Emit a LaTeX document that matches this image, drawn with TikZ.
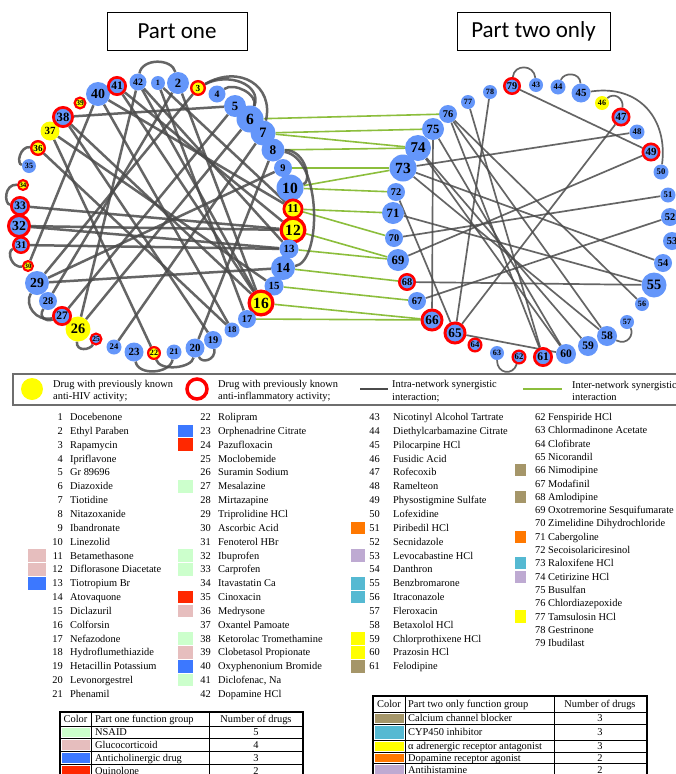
\documentclass[tikz,border=0pt]{standalone}
\usepackage{fontspec}
\setmainfont{Liberation Serif}
\newfontfamily\partfont{Carlito}
\pgfdeclarelayer{bg}
\pgfsetlayers{bg,main}
\definecolor{nblue}{RGB}{100,150,250}
\definecolor{nyel}{RGB}{255,255,0}
\definecolor{nred}{RGB}{255,0,0}
\definecolor{egray}{RGB}{75,75,75}
\definecolor{egreen}{RGB}{140,190,60}
\definecolor{sgreen}{RGB}{204,255,204}
\definecolor{spink}{RGB}{230,190,190}
\definecolor{sblue}{RGB}{60,120,255}
\definecolor{sred}{RGB}{255,40,0}
\definecolor{sorange}{RGB}{255,120,0}
\definecolor{slav}{RGB}{190,170,210}
\definecolor{scyan}{RGB}{85,185,210}
\definecolor{syel}{RGB}{255,255,0}
\definecolor{skhaki}{RGB}{165,150,105}
\newcommand\dn[5]{%
 \pgfmathsetmacro\dnfs{#4*1.15}%
 \pgfmathsetmacro\dnsz{2*#4}%
 \node[#5, minimum size=\dnsz pt, font=\bfseries\fontsize{\dnfs}{\dnfs}\selectfont] (n#1) at (#2,#3) {#1};}
\newcommand\dr[5]{%
 \pgfmathsetmacro\dnfs{#4*1.15}%
 \pgfmathsetmacro\dnlw{0.15*#4+1.2}%
 \pgfmathsetmacro\dnsz{2*#4-\dnlw}%
 \node[#5, line width=\dnlw pt, minimum size=\dnsz pt, font=\bfseries\fontsize{\dnfs}{\dnfs}\selectfont] (n#1) at (#2,#3) {#1};}
\begin{document}
\begin{tikzpicture}[x=1pt,y=-1pt,
 bn/.style={circle, fill=nblue, inner sep=0pt},
 yn/.style={circle, fill=nyel, inner sep=0pt},
 brn/.style={circle, fill=nblue, draw=nred, inner sep=0pt},
 yrn/.style={circle, fill=nyel, draw=nred, inner sep=0pt},
 intra/.style={draw=egray, line width=2.5pt, opacity=0.85},
 intrar/.style={draw=egray, line width=1.7pt, opacity=0.85},
 inter/.style={draw=egreen, line width=1.6pt},
 txt/.style={font=\fontsize{10.4}{12.5}\selectfont, inner sep=0pt},
 partbox/.style={draw, line width=0.8pt, minimum height=38pt, font=\partfont\fontsize{23}{26}\selectfont},
 tline/.style={line width=0.9pt}
]
\useasboundingbox (0,0) rectangle (675,774);
\begin{pgfonlayer}{bg}
\fill[white] (0,0) rectangle (675,774);
\end{pgfonlayer}

% titles
\node[partbox, minimum width=140pt] (p1) at (177,31) {Part one};
\node[partbox, minimum width=153pt] (p2) at (533.5,31) {Part two only};

% left network
\dn{1}{158}{83}{7}{bn}
\dn{2}{178}{83}{11}{bn}
\dr{3}{198}{88}{8}{yrn}
\dn{4}{217}{94}{8.5}{bn}
\dn{5}{235}{106}{11}{bn}
\dn{6}{250}{119}{13.5}{bn}
\dn{7}{263}{133}{12.5}{bn}
\dn{8}{273}{150}{11.5}{bn}
\dn{9}{283}{168}{9}{bn}
\dn{10}{290}{188}{13.5}{bn}
\dr{11}{293}{209}{10.5}{yrn}
\dr{12}{293}{230}{13.5}{yrn}
\dn{13}{289}{249}{9.5}{bn}
\dn{14}{283}{268}{12}{bn}
\dn{15}{274}{286}{9.5}{bn}
\dr{16}{261}{303}{13.5}{yrn}
\dn{17}{247}{319}{9}{bn}
\dn{18}{232}{330}{7.5}{bn}
\dn{19}{213}{340}{9}{bn}
\dn{20}{195}{348}{9.5}{bn}
\dn{21}{174}{352}{7.5}{bn}
\dr{22}{154}{353}{7}{yrn}
\dn{23}{134}{352}{9.5}{bn}
\dn{24}{114}{347}{7.5}{bn}
\dr{25}{96}{339}{6.5}{brn}
\dn{26}{78}{329}{12.5}{yn}
\dr{27}{62}{316}{10}{brn}
\dn{28}{48}{301}{9}{bn}
\dn{29}{37}{283}{12}{bn}
\dr{30}{28}{266}{6}{yrn}
\dr{31}{21}{245}{9}{brn}
\dr{32}{19}{226}{12}{brn}
\dr{33}{20}{206}{10}{brn}
\dr{34}{23}{185}{6}{yrn}
\dn{35}{29}{166}{7}{bn}
\dr{36}{38}{148}{8}{yrn}
\dn{37}{50}{131}{9.5}{yn}
\dr{38}{63}{117}{11}{brn}
\dr{39}{80}{103}{6.5}{yrn}
\dn{40}{98}{94}{12}{bn}
\dr{41}{117}{86}{10}{brn}
\dn{42}{138}{82}{8.5}{bn}

% right network
\dr{79}{512}{86}{9}{brn}
\dn{43}{536}{85}{7}{bn}
\dn{44}{558}{87}{7.5}{bn}
\dn{45}{581}{93}{9.5}{bn}
\dn{46}{602}{103}{7}{yn}
\dr{47}{621}{117}{9.5}{brn}
\dn{48}{637}{132}{7.5}{bn}
\dr{49}{651}{152}{9.5}{brn}
\dn{50}{661}{172}{7.5}{bn}
\dn{51}{668}{195}{7.5}{bn}
\dn{52}{670}{217}{9}{bn}
\dn{53}{672}{241}{9}{bn}
\dn{54}{663}{263}{9}{bn}
\dn{55}{654}{285}{12.5}{bn}
\dn{56}{642}{304}{7}{bn}
\dn{57}{627}{322}{7}{bn}
\dn{58}{607}{336}{10}{bn}
\dn{59}{588}{346}{10}{bn}
\dn{60}{566}{354}{10}{bn}
\dr{61}{543}{357}{10}{brn}
\dr{62}{519}{357}{7.5}{brn}
\dn{63}{497}{353}{7}{bn}
\dr{64}{475}{345}{7.5}{brn}
\dr{65}{455}{333}{11.5}{brn}
\dr{66}{432}{320}{11.5}{brn}
\dn{67}{417}{301}{9}{bn}
\dr{68}{407}{282}{9}{brn}
\dn{69}{398}{260}{11}{bn}
\dn{70}{394}{238}{9}{bn}
\dn{71}{393}{213}{11}{bn}
\dn{72}{396}{192}{9}{bn}
\dn{73}{403}{168}{13.5}{bn}
\dn{74}{418}{148}{13}{bn}
\dn{75}{433}{129}{11}{bn}
\dn{76}{448}{114}{9}{bn}
\dn{77}{468}{102}{7}{bn}
\dn{78}{490}{92}{7}{bn}

\begin{pgfonlayer}{bg}
% inter-network
\foreach \a/\b in {6/76,7/75,7/74,8/74,9/73,10/73,10/72,11/71,11/70,12/69,13/69,14/68,15/67,16/66,17/66}
 {\draw[inter] (n\a) -- (n\b);}
% intra left, straight
\foreach \a/\b in {38/5,33/12,32/12,32/13,31/13,29/14,42/16,41/16,38/16,37/15,1/11,41/12,40/11,40/18,37/22,42/26,6/26,29/9,2/28,40/30,5/27,36/18,8/20,7/24,3/29,38/19,1/17,42/13,2/16}
 {\draw[intra] (n\a) -- (n\b);}
% intra left, arcs
\draw[intra] (n42) .. controls (142,58) and (172,58) .. (n2);
\draw[intra] (n3) .. controls (240,64) and (274,86) .. (n7);
\draw[intra] (n3) .. controls (228,72) and (262,84) .. (n6);
\draw[intra] (n4) .. controls (234,82) and (258,94) .. (n6);
\draw[intra] (n8) .. controls (322,158) and (322,262) .. (n14);
\draw[intra] (n8) .. controls (306,150) and (312,182) .. (n10);
\draw[intra] (n34) .. controls (4,184) and (4,204) .. (n33);
\draw[intra] (n36) .. controls (20,146) and (16,164) .. (n35);
\draw[intra] (n31) .. controls (6,252) and (12,268) .. (n30);
\draw[intra] (n29) .. controls (24,305) and (36,322) .. (n27);
\draw[intra] (n28) .. controls (38,318) and (46,322) .. (n27);
\draw[intra] (n26) .. controls (76,352) and (90,350) .. (n25);
\draw[intra] (n23) .. controls (138,376) and (170,374) .. (n21);
\draw[intra] (n22) .. controls (160,372) and (192,368) .. (n20);
\draw[intra] (n20) .. controls (202,364) and (216,360) .. (n19);
% intra right, straight
\foreach \a/\b in {79/49,48/73,47/65,78/65,75/66,70/51,69/49,52/67,68/55,76/61,76/58,77/61,74/60,74/59,73/58,72/65,71/55,65/60,56/76,54/73,75/60}
 {\draw[intrar] (n\a) -- (n\b);}
% intra right, arcs
\draw[intrar] (n79) .. controls (514,64) and (534,64) .. (n43);
\draw[intrar] (n44) .. controls (564,72) and (580,72) .. (n45);
\draw[intrar] (n46) .. controls (614,92) and (624,98) .. (n47);
\draw[intrar] (n45) .. controls (640,84) and (668,120) .. (n50);
\draw[intrar] (n57) .. controls (634,334) and (628,346) .. (n58);
\draw[intrar] (n63) .. controls (497,374) and (513,376) .. (n62);
\end{pgfonlayer}

% legend
\draw[draw={rgb,255:red,110;green,110;blue,110}, line width=1.2pt] (13,374) rectangle (690,405);
\node[circle, fill=nyel, minimum size=22pt, inner sep=0pt] (lgy) at (32,389) {};
\node[txt, anchor=west, align=left] (lgyt) at (53,391) {Drug with previously known\\anti-HIV activity;};
\node[circle, draw=nred, line width=3.5pt, minimum size=20pt, inner sep=0pt] (lgr) at (197,389) {};
\node[txt, anchor=west, align=left] (lgrt) at (218,391) {Drug with previously known\\anti-inflammatory activity;};
\coordinate (lga) at (360,389); \coordinate (lgb) at (388,389);
\draw[egray, line width=2.5pt] (lga) -- (lgb);
\node[txt, anchor=west, align=left] (lgit) at (392,391) {Intra-network synergistic\\interaction;};
\coordinate (lgc) at (523,389); \coordinate (lgd) at (562,389);
\draw[egreen, line width=2.5pt] (lgc) -- (lgd);
\node[txt, anchor=west, align=left] (lget) at (572,391) {Inter-network synergistic\\interaction};

% drug list
\foreach \n/\t [count=\i from 0] in {1/Docebenone, 2/Ethyl Paraben, 3/Rapamycin, 4/Ipriflavone, 5/Gr 89696, 6/Diazoxide, 7/Tiotidine, 8/Nitazoxanide, 9/Ibandronate, 10/Linezolid, 11/Betamethasone, 12/Diflorasone Diacetate, 13/Tiotropium Br, 14/Atovaquone, 15/Diclazuril, 16/Colforsin, 17/Nefazodone, 18/Hydroflumethiazide, 19/Hetacillin Potassium, 20/Levonorgestrel, 21/Phenamil}
 {\pgfmathsetmacro\yy{420.5+\i*13.85}
  \node[txt, anchor=base east] (dnum\n) at (63,\yy) {\n};
  \node[txt, anchor=base west] (dnam\n) at (70,\yy) {\t};}
\foreach \n/\t [count=\i from 0] in {22/Rolipram, 23/Orphenadrine Citrate, 24/Pazufloxacin, 25/Moclobemide, 26/Suramin Sodium, 27/Mesalazine, 28/Mirtazapine, 29/Triprolidine HCl, 30/Ascorbic Acid, 31/Fenoterol HBr, 32/Ibuprofen, 33/Carprofen, 34/Itavastatin Ca, 35/Cinoxacin, 36/Medrysone, 37/Oxantel Pamoate, 38/Ketorolac Tromethamine, 39/Clobetasol Propionate, 40/Oxyphenonium Bromide, 41/{Diclofenac, Na}, 42/Dopamine HCl}
 {\pgfmathsetmacro\yy{420.5+\i*13.85}
  \node[txt, anchor=base east] (dnum\n) at (211,\yy) {\n};
  \node[txt, anchor=base west] (dnam\n) at (218,\yy) {\t};}
\foreach \n/\t [count=\i from 0] in {43/Nicotinyl Alcohol Tartrate, 44/Diethylcarbamazine Citrate, 45/Pilocarpine HCl, 46/Fusidic Acid, 47/Rofecoxib, 48/Ramelteon, 49/Physostigmine Sulfate, 50/Lofexidine, 51/Piribedil HCl, 52/Secnidazole, 53/Levocabastine HCl, 54/Danthron, 55/Benzbromarone, 56/Itraconazole, 57/Fleroxacin, 58/Betaxolol HCl, 59/Chlorprothixene HCl, 60/Prazosin HCl, 61/Felodipine}
 {\pgfmathsetmacro\yy{420.5+\i*13.85}
  \node[txt, anchor=base east] (dnum\n) at (380,\yy) {\n};
  \node[txt, anchor=base west] (dnam\n) at (393,\yy) {\t};}
\foreach \n/\t [count=\i from 0] in {62/Fenspiride HCl, 63/Chlormadinone Acetate, 64/Clofibrate, 65/Nicorandil, 66/Nimodipine, 67/Modafinil, 68/Amlodipine, 69/Oxotremorine Sesquifumarate, 70/Zimelidine Dihydrochloride, 71/Cabergoline, 72/Secoisolariciresinol, 73/Raloxifene HCl, 74/Cetirizine HCl, 75/Busulfan, 76/Chlordiazepoxide, 77/Tamsulosin HCl, 78/Gestrinone, 79/Ibudilast}
 {\pgfmathsetmacro\yy{420.5+\i*13.3}
  \node[txt, anchor=base west] (dnam\n) at (535,\yy) {\n\ \t};}

% swatches
\foreach \n/\c in {11/spink,12/spink,13/sblue}
 {\pgfmathsetmacro\yy{417+(\n-1)*13.85}\fill[\c] (28,\yy-6.3) rectangle (46,\yy+6.3);}
\foreach \n/\c in {23/sblue,24/sred,27/sgreen,32/sgreen,33/sgreen,35/sred,36/spink,38/sgreen,39/spink,40/sblue,41/sgreen}
 {\pgfmathsetmacro\yy{417+(\n-22)*13.85}\fill[\c] (178,\yy-6.3) rectangle (193,\yy+6.3);}
\foreach \n/\c in {51/sorange,53/slav,55/scyan,56/scyan,59/syel,60/syel,61/skhaki}
 {\pgfmathsetmacro\yy{417+(\n-43)*13.85}\fill[\c] (351,\yy-6.3) rectangle (365,\yy+6.3);}
\foreach \n/\c in {66/skhaki,68/skhaki,71/sorange,73/scyan,74/slav,77/syel}
 {\pgfmathsetmacro\yy{417+(\n-62)*13.3}\fill[\c] (515,\yy-6.1) rectangle (526,\yy+6.1);}

% left table
\fill[sgreen] (61.5,727.5) rectangle (89.5,737);
\fill[spink] (61.5,739.5) rectangle (89.5,750);
\fill[sblue] (61.5,752.5) rectangle (89.5,763);
\fill[sred] (61.5,765.5) rectangle (89.5,778);
\draw[line width=1.3pt] (60,780) -- (60,712) -- (303,712) -- (303,780);
\draw[tline] (91,712) -- (91,780) (209,712) -- (209,780);
\foreach \y in {726,738,751,764} {\draw[tline] (60,\y) -- (303,\y);}
\node[txt, anchor=base] (lt1) at (75.5,722.5) {Color};
\node[txt, anchor=base west] (lt2) at (95,722.5) {Part one function group};
\node[txt, anchor=base] (lt3) at (256,722.5) {Number of drugs};
\foreach \y/\t/\v [count=\i] in {735.5/NSAID/5, 748/Glucocorticoid/4, 761/Anticholinergic drug/3, 774/Quinolone/2}
 {\node[txt, anchor=base west] (ltn\i) at (95,\y) {\t};
  \node[txt, anchor=base] (ltv\i) at (256,\y) {\v};}

% right table
\fill[skhaki] (374.5,713.5) rectangle (403.5,723);
\fill[scyan] (374.5,725.5) rectangle (403.5,739);
\fill[syel] (374.5,741.5) rectangle (403.5,751);
\fill[sorange] (374.5,753.5) rectangle (403.5,762);
\fill[slav] (374.5,764.5) rectangle (403.5,778);
\draw[line width=1.3pt] (373,780) -- (373,696) -- (647,696) -- (647,780);
\draw[tline] (405,696) -- (405,780) (554,696) -- (554,780);
\foreach \y in {712,724,740,752,763} {\draw[tline] (373,\y) -- (647,\y);}
\node[txt, anchor=base] (rt1) at (389,707.5) {Color};
\node[txt, anchor=base west] (rt2) at (408,707.5) {Part two only function group};
\node[txt, anchor=base] (rt3) at (600,707.5) {Number of drugs};
\foreach \y/\t/\v [count=\i] in {721.5/Calcium channel blocker/3, 735.5/CYP450 inhibitor/3, 749.5/α adrenergic receptor antagonist/3, 761/Dopamine receptor agonist/2, 773.5/Antihistamine/2}
 {\node[txt, anchor=base west] (rtn\i) at (408,\y) {\t};
  \node[txt, anchor=base] (rtv\i) at (600,\y) {\v};}
\end{tikzpicture}
\end{document}
